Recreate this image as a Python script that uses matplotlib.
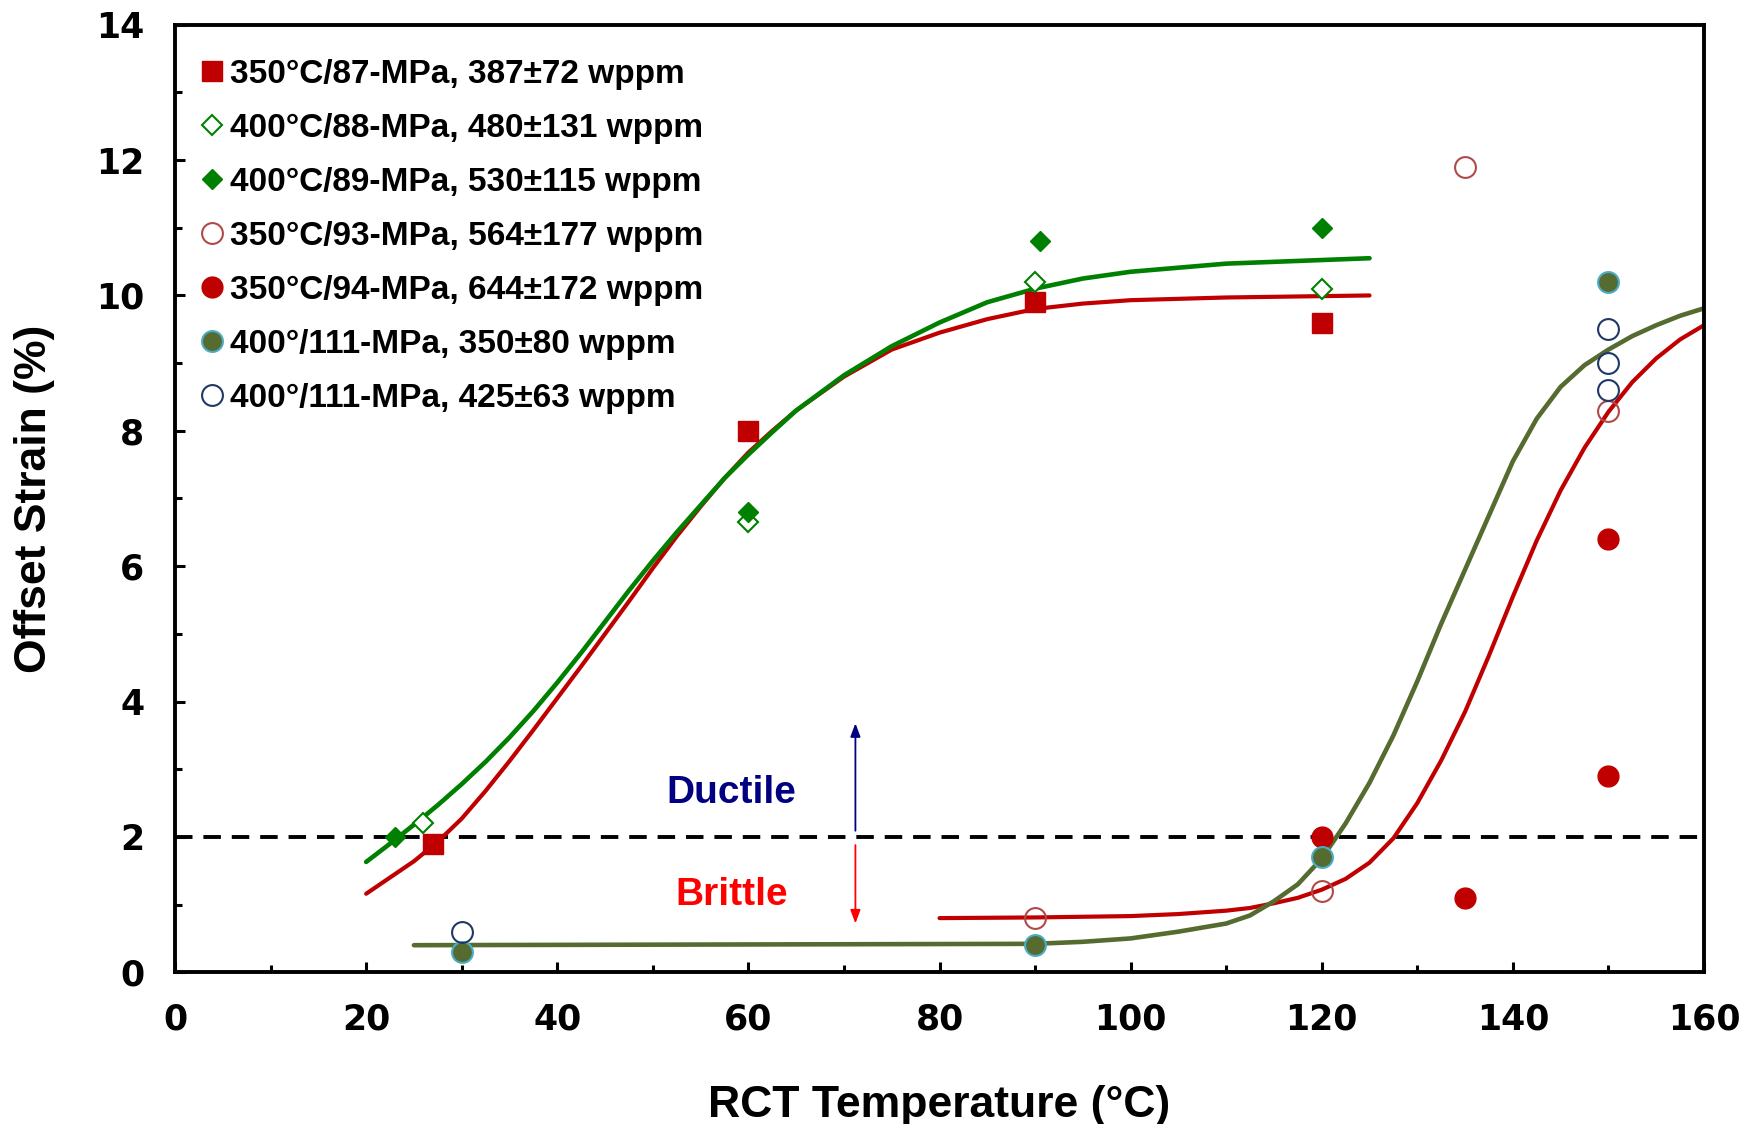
import matplotlib
matplotlib.use('Agg')
import matplotlib.pyplot as plt
from matplotlib.ticker import MultipleLocator

# ---- measured points ----
t_87 = [27, 60, 90, 120]
s_87 = [1.9, 8.0, 9.9, 9.6]

t_88 = [26, 60, 90, 120]
s_88 = [2.2, 6.65, 10.2, 10.1]

t_89 = [23, 60, 90.5, 120]
s_89 = [2.0, 6.8, 10.8, 11.0]

t_93 = [90, 120, 135, 150]
s_93 = [0.8, 1.2, 11.9, 8.3]

t_94 = [120, 135, 150, 150]
s_94 = [2.0, 1.1, 6.4, 2.9]

t_111a = [30, 90, 120, 150]
s_111a = [0.3, 0.4, 1.7, 10.2]

t_111b = [30, 150, 150, 150]
s_111b = [0.6, 9.5, 9.0, 8.6]

# ---- fit curves ----
fit_red1_t = [20, 22.5, 25, 27.5, 30, 32.5, 35, 37.5, 40, 42.5, 45, 47.5, 50, 52.5, 55, 57.5,
              60, 62.5, 65, 70, 75, 80, 85, 90, 95, 100, 110, 125]
fit_red1_s = [1.16, 1.4, 1.64, 1.93, 2.27, 2.68, 3.12, 3.58, 4.05, 4.52, 5.0, 5.48, 5.97, 6.44, 6.88, 7.3,
              7.68, 8.0, 8.3, 8.8, 9.2, 9.45, 9.65, 9.8, 9.88, 9.93, 9.97, 10.0]

fit_grn_t = [20, 22.5, 25, 27.5, 30, 32.5, 35, 37.5, 40, 42.5, 45, 47.5, 50, 52.5, 55, 57.5,
             60, 62.5, 65, 70, 75, 80, 85, 90, 95, 100, 110, 125]
fit_grn_s = [1.63, 1.9, 2.18, 2.47, 2.78, 3.11, 3.47, 3.86, 4.28, 4.72, 5.18, 5.64, 6.08, 6.5, 6.9, 7.3,
             7.65, 7.98, 8.3, 8.82, 9.25, 9.6, 9.9, 10.1, 10.25, 10.35, 10.47, 10.55]

fit_red2_t = [80, 90, 100, 105, 110, 112.5, 115, 117.5, 120, 122.5, 125, 127.5, 130, 132.5, 135,
              137.5, 140, 142.5, 145, 147.5, 150, 152.5, 155, 157.5, 160]
fit_red2_s = [0.8, 0.81, 0.83, 0.86, 0.91, 0.95, 1.02, 1.1, 1.22, 1.38, 1.62, 1.98, 2.5, 3.13, 3.85,
              4.68, 5.55, 6.38, 7.12, 7.75, 8.28, 8.72, 9.07, 9.35, 9.56]

fit_olv_t = [25, 90, 95, 100, 105, 110, 112.5, 115, 117.5, 120, 122.5, 125, 127.5, 130, 132.5, 135,
             137.5, 140, 142.5, 145, 147.5, 150, 152.5, 155, 157.5, 160]
fit_olv_s = [0.4, 0.42, 0.45, 0.5, 0.6, 0.72, 0.84, 1.05, 1.3, 1.68, 2.2, 2.8, 3.5, 4.3, 5.15, 5.95,
             6.75, 7.55, 8.18, 8.65, 8.97, 9.2, 9.4, 9.56, 9.7, 9.81]

labels = ['350°C/87-MPa, 387±72 wppm',
          '400°C/88-MPa, 480±131 wppm',
          '400°C/89-MPa, 530±115 wppm',
          '350°C/93-MPa, 564±177 wppm',
          '350°C/94-MPa, 644±172 wppm',
          '400°/111-MPa, 350±80 wppm',
          '400°/111-MPa, 425±63 wppm']

red = '#C00000'
green = '#008000'
olive = '#556B2F'

fig = plt.figure(figsize=(17.52, 11.24), dpi=100)
ax = fig.add_axes([0.0999, 0.135, 0.8727, 0.843])

# curves
ax.plot(fit_red1_t, fit_red1_s, color=red, lw=3, zorder=2, solid_capstyle='round', solid_joinstyle='round')
ax.plot(fit_grn_t, fit_grn_s, color=green, lw=3.3, zorder=2, solid_capstyle='round', solid_joinstyle='round')
ax.plot(fit_red2_t, fit_red2_s, color=red, lw=3, zorder=2, solid_capstyle='round', solid_joinstyle='round')
ax.plot(fit_olv_t, fit_olv_s, color=olive, lw=3.3, zorder=2, solid_capstyle='round', solid_joinstyle='round')

# 2% line
ax.axhline(2, color='black', lw=2.8, ls=(0, (4.5, 2.8)), zorder=1)

ms = 15
h = []
h.append(ax.plot(t_87, s_87, 's', ms=ms, color=red, mec=red, ls='none', zorder=3)[0])
h.append(ax.plot(t_88, s_88, 'D', ms=10.5, mfc='white', mec=green, mew=1.5, ls='none', zorder=3)[0])
h.append(ax.plot(t_89, s_89, 'D', ms=10.5, color=green, mec=green, ls='none', zorder=3)[0])
h.append(ax.plot(t_93, s_93, 'o', ms=ms, mfc='none', mec='#B04A48', mew=1.5, ls='none', zorder=3)[0])
h.append(ax.plot(t_94, s_94, 'o', ms=ms, color=red, mec=red, ls='none', zorder=3)[0])
h.append(ax.plot(t_111a, s_111a, 'o', ms=ms, mfc=olive, mec='#4BACC6', mew=1.5, ls='none', zorder=3)[0])
h.append(ax.plot(t_111b, s_111b, 'o', ms=ms, mfc='none', mec='#1F3864', mew=1.5, ls='none', zorder=3)[0])

leg = ax.legend(h, labels, loc='upper left', bbox_to_anchor=(0.0177, 0.964),
                frameon=False, borderaxespad=0, borderpad=0,
                handlelength=0.6, handletextpad=0.25, labelspacing=0.69,
                prop={'family': 'Liberation Sans', 'weight': 'bold', 'size': 24})

# ductile / brittle arrows
ax.annotate('', xy=(71.2, 3.72), xytext=(71.2, 2.05),
            arrowprops=dict(arrowstyle='-|>,head_length=0.8,head_width=0.3', color='#000080', lw=1.3))
ax.annotate('', xy=(71.2, 0.68), xytext=(71.2, 1.92),
            arrowprops=dict(arrowstyle='-|>,head_length=0.8,head_width=0.3', color='#FF0000', lw=1.3))
ax.text(58.2, 2.65, 'Ductile', color='#000080', fontsize=28, fontweight='bold',
        family='Liberation Sans', ha='center', va='center')
ax.text(58.2, 1.14, 'Brittle', color='#FF0000', fontsize=28, fontweight='bold',
        family='Liberation Sans', ha='center', va='center')

ax.set_xlim(0, 160)
ax.set_ylim(0, 14)
ax.xaxis.set_major_locator(MultipleLocator(20))
ax.xaxis.set_minor_locator(MultipleLocator(10))
ax.yaxis.set_major_locator(MultipleLocator(2))
ax.yaxis.set_minor_locator(MultipleLocator(1))
ax.tick_params(which='both', direction='in', width=2.2, pad=22,
               labelsize=25)
ax.tick_params(which='major', length=7)
ax.tick_params(which='minor', length=5)
for lab in ax.get_xticklabels() + ax.get_yticklabels():
    lab.set_fontweight('bold')
    lab.set_family('DejaVu Sans')
for sp in ax.spines.values():
    sp.set_linewidth(2.8)

ax.set_xlabel('RCT Temperature (°C)', fontsize=32, fontweight='bold',
              family='Liberation Sans', labelpad=35)
ax.set_ylabel('Offset Strain (%)', fontsize=32, fontweight='bold',
              family='Liberation Sans', labelpad=30)

fig.savefig('out.png', dpi=100)
